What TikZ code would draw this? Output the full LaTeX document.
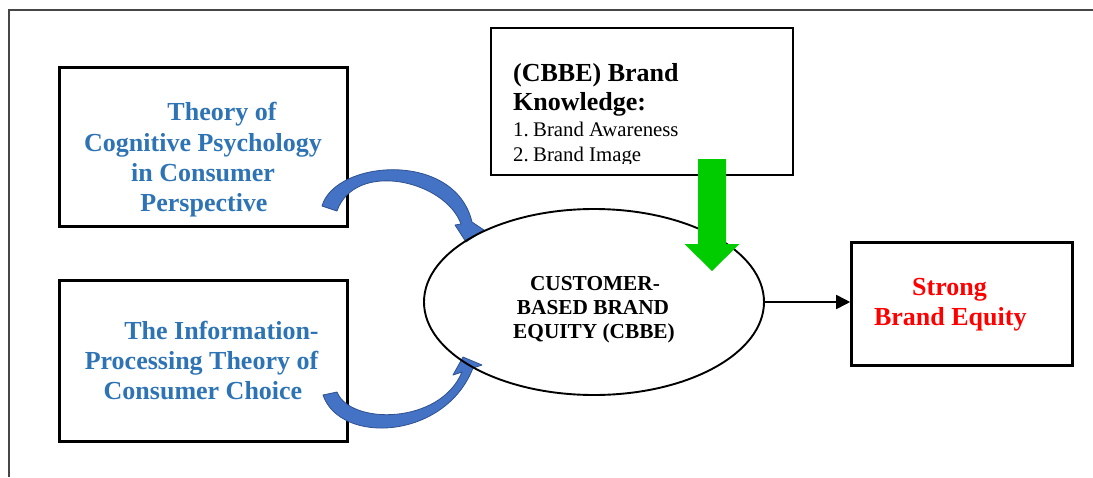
\documentclass[tikz,border=0pt]{standalone}
\usepackage{fontspec}
\setmainfont{Liberation Serif}
\usetikzlibrary{shapes.geometric,arrows.meta}
\definecolor{txtblue}{RGB}{46,116,181}
\definecolor{arrfill}{RGB}{68,114,196}
\definecolor{arrline}{RGB}{47,82,143}
\definecolor{grn}{RGB}{0,204,0}
\definecolor{framegray}{RGB}{70,70,70}
\tikzset{
  box/.style={draw=black, line width=3pt, rectangle, inner sep=0pt},
  thinbox/.style={draw=black, line width=2.4pt, rectangle, inner sep=0pt},
  oval/.style={draw=black, line width=1.9pt, ellipse, inner sep=0pt},
  bluearrow/.style={fill=arrfill, draw=arrline, line width=0.8pt, line join=round},
  greenarrow/.style={fill=grn, draw=none},
  bigtxt/.style={inner sep=0pt, anchor=base, font=\fontsize{26}{30}\selectfont\bfseries},
  bluetxt/.style={bigtxt, text=txtblue},
  redtxt/.style={bigtxt, text=red},
  headtxt/.style={inner sep=0pt, anchor=base west, font=\fontsize{26}{30}\selectfont\bfseries},
  listtxt/.style={inner sep=0pt, anchor=base west, font=\fontsize{20.8}{25}\selectfont},
  ovaltxt/.style={inner sep=0pt, anchor=base, font=\fontsize{21.3}{24}\selectfont\bfseries},
  frameline/.style={draw=framegray, line width=1.3pt},
  conn/.style={draw=black, line width=1.8pt, -{Triangle[length=14pt,width=14pt]}}
}
\begin{document}
\begin{tikzpicture}[x=1pt,y=-1pt]
\useasboundingbox (0,0) rectangle (1093,477);
\fill[white] (0,0) rectangle (1093,477);
% outer frame
\draw[frameline] (9,477) -- (9,10) -- (1093,10);
% boxes
\node[box, minimum width=288, minimum height=159] (b1) at (203,146.5) {};
\node[box, minimum width=288, minimum height=161] (b2) at (203,360.5) {};
\node[thinbox, minimum width=302, minimum height=147] (b3) at (642,101.5) {};
\node[box, minimum width=221, minimum height=123.4] (b4) at (962.2,304) {};
% blue curved arrows
\filldraw[bluearrow] (322,206) .. controls (335,160) and (455,150) .. (472,222)
  -- (484,230) -- (466,242) -- (455,225) -- (461,224)
  .. controls (445,180) and (355,160) .. (337,211) -- cycle;
\filldraw[bluearrow] (323,395) .. controls (340,445) and (445,440) .. (473,368)
  -- (482,365) -- (463,357) -- (453,375) -- (462,372)
  .. controls (440,425) and (350,425) .. (337,392) -- cycle;
% ellipse
\node[oval, minimum width=340, minimum height=186] (e) at (594,302) {};
% green arrow
\fill[greenarrow] (698,159) -- (726,159) -- (726,244) -- (739.5,244) -- (712,271)
  -- (684.5,244) -- (698,244) -- cycle;
% connector
\draw[conn] (e.east) -- (e.east -| b4.west);
% texts box 1
\node[bluetxt] (t1a) at (222,120.7) {Theory of};
\node[bluetxt] (t1b) at (203,151) {Cognitive Psychology};
\node[bluetxt] (t1c) at (203,181.3) {in Consumer};
\node[bluetxt] (t1d) at (204,211) {Perspective};
% texts box 2
\node[bluetxt] (t2a) at (221.5,339.3) {The Information-};
\node[bluetxt] (t2b) at (201.5,369) {Processing Theory of};
\node[bluetxt] (t2c) at (203,399.3) {Consumer Choice};
% texts box 3
\begin{scope}
\clip (491,28) rectangle (793,163.5);
\node[headtxt] (t3a) at (513,81) {(CBBE) Brand};
\node[headtxt] (t3b) at (513,110.7) {Knowledge:};
\node[listtxt] (t3c) at (513,136.7) {\makebox[20pt][l]{1.}Brand Awareness};
\node[listtxt] (t3d) at (513,161.7) {\makebox[20pt][l]{2.}Brand Image};
\end{scope}
% ellipse text
\node[ovaltxt] (te1) at (595,290.7) {CUSTOMER-};
\node[ovaltxt] (te2) at (593,314.3) {BASED BRAND};
\node[ovaltxt] (te3) at (594,338) {EQUITY (CBBE)};
% box 4 text
\node[redtxt] (t4a) at (949.5,295) {Strong};
\node[redtxt] (t4b) at (950.3,325) {Brand Equity};
\end{tikzpicture}
\end{document}
